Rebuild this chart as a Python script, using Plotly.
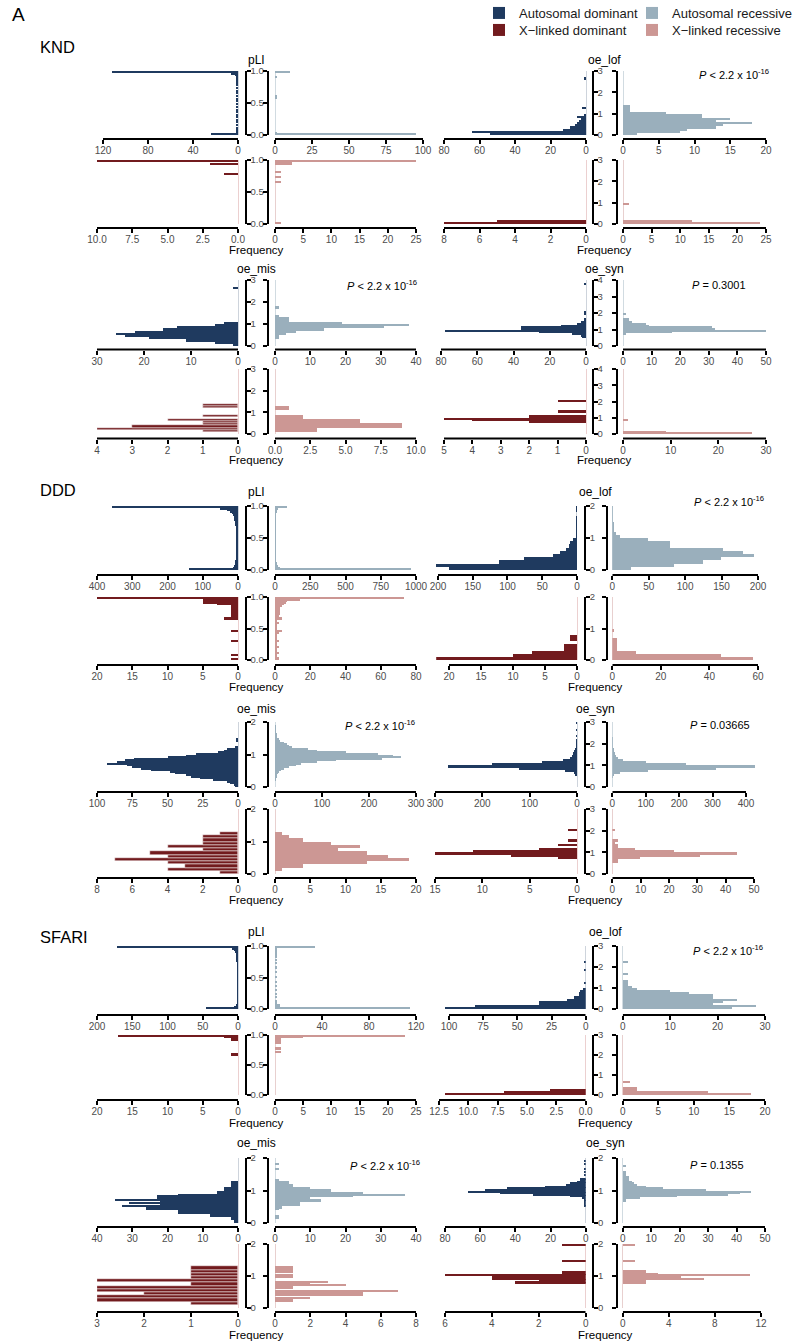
import plotly.graph_objects as go

W, H = 794, 1341

# ---------------------------------------------------------------------------
# Histogram counts. Each list holds the counts of consecutive bins starting
# at 0; pLI uses bins of 0.025, the o/e metrics 0.1 unless listed in FINE_BINS.
# ---------------------------------------------------------------------------
KND_PLI_AD = [24, 2, 1, 1, 1, 0, 1, 0, 1, 1,
              0, 1, 1, 0, 1, 1, 0, 1, 0, 1,
              0, 1, 1, 0, 1, 0, 1, 1, 0, 1,
              0, 1, 1, 1, 1, 2, 2, 3, 6, 112]
KND_PLI_AR = [95, 1, 0, 0, 0, 0, 0, 0, 0, 0,
              0, 0, 0, 0, 0, 0, 0, 0, 0, 0,
              0, 0, 0, 1, 1, 0, 0, 0, 0, 0,
              0, 0, 0, 0, 0, 0, 1, 0, 0, 10]
KND_PLI_XLD = [0, 0, 0, 0, 0, 0, 0, 0, 0, 0,
               0, 0, 0, 0, 0, 0, 0, 0, 0, 0,
               0, 0, 0, 0, 0, 0, 0, 0, 0, 0,
               0, 1, 0, 0, 0, 0, 0, 2, 0, 10]
KND_PLI_XLR = [1, 0, 0, 0, 0, 0, 0, 0, 0, 0,
               0, 0, 0, 0, 0, 0, 0, 0, 0, 0,
               0, 0, 0, 0, 0, 0, 1, 0, 0, 1,
               0, 0, 1, 0, 0, 0, 0, 3, 3, 25]
KND_LOF_AD = [54, 64, 13, 9, 6, 5, 4, 3, 5, 1, 0, 0, 2, 0, 0, 0, 0, 0, 0, 0,
              0, 0, 0, 0, 0, 0, 1]
KND_LOF_AR = [2, 8, 9, 13, 14, 18, 13, 15, 11, 11, 6, 1, 1, 1]
KND_LOF_XLD = [8, 5]
KND_LOF_XLR = [24, 12, 0, 0, 0, 0, 0, 0, 0, 1]
KND_MIS_AD = [1, 5, 11, 19, 24, 26, 22, 16, 13, 5, 3, 0, 0, 0, 0, 0, 0, 0, 0, 0,
              0, 0, 0, 0, 0, 0, 1]
KND_MIS_AR = [0, 0, 0, 1, 1, 3, 6, 14, 31, 38, 19, 4, 4, 1, 0, 0, 0, 1]
KND_MIS_XLD = [0, 1, 4, 3, 1, 1, 2, 0, 1, 0, 0, 0, 1, 1]
KND_MIS_XLR = [0, 3, 3, 9, 9, 6, 6, 2, 2, 0, 0, 1, 1]
KND_SYN_AD = [0, 0, 0, 0, 0, 2, 3, 8, 26, 78, 36, 36, 14, 5, 3, 1, 1, 0, 0, 1,
              1, 0, 0, 0, 0, 0, 0, 0, 0, 0, 0, 0, 0, 0, 0, 0, 0, 1]
KND_SYN_AR = [0, 0, 0, 0, 0, 0, 0, 1, 17, 50, 32, 31, 9, 8, 3, 2, 2, 0, 0, 1]
KND_SYN_XLD = [0, 0, 0, 0, 0, 0, 0, 2, 4, 5, 2, 2, 0, 1, 1, 0, 0, 0, 0, 0, 1]
KND_SYN_XLR = [27, 9, 0, 0, 0, 0, 0, 0, 1]

DDD_PLI_AD = [140, 14, 10, 9, 8, 8, 7, 7, 7, 6,
              6, 6, 6, 6, 6, 6, 6, 6, 6, 6,
              6, 6, 6, 6, 6, 7, 7, 7, 8, 8,
              9, 10, 11, 12, 13, 16, 22, 32, 50, 358]
DDD_PLI_AR = [965, 35, 18, 12, 9, 7, 6, 5, 5, 4,
              4, 4, 4, 3, 3, 3, 3, 3, 3, 3,
              3, 3, 3, 3, 3, 3, 3, 3, 3, 4,
              4, 4, 4, 5, 6, 7, 9, 12, 23, 82]
DDD_PLI_XLD = [1, 0, 0, 1, 0, 0, 0, 0, 0, 0,
               0, 0, 1, 0, 0, 0, 0, 0, 1, 0,
               0, 0, 0, 0, 0, 0, 2, 1, 1, 1,
               1, 1, 1, 1, 1, 3, 5, 5, 5, 20]
DDD_PLI_XLR = [2, 2, 1, 1, 2, 1, 1, 1, 2, 1,
               1, 1, 2, 1, 1, 1, 1, 2, 4, 1,
               1, 1, 1, 2, 1, 1, 4, 2, 2, 3,
               3, 3, 3, 3, 4, 5, 6, 7, 14, 73]
DDD_LOF_AD = [184, 203, 112, 77, 34, 24, 16, 12, 10, 6, 2, 1, 1, 1, 1, 1, 1, 0, 1, 1]
DDD_LOF_AR = [26, 85, 125, 150, 195, 180, 152, 79, 79, 49, 11, 5, 3, 2, 2, 1, 1, 1, 1, 1]
DDD_LOF_XLD = [22, 10, 7, 2, 2, 0, 1, 1]
DDD_LOF_XLR = [58, 45, 10, 2, 2, 2, 2, 0, 0, 1]
DDD_MIS_AD = [2, 3, 6, 8, 18, 27, 33, 37, 45, 48, 62, 69, 75, 79, 93, 86, 80, 74, 50, 37,
              30, 14, 10, 8, 2, 0, 0, 0, 1, 1]
DDD_MIS_AR = [0, 0, 0, 0, 1, 2, 3, 4, 6, 9, 13, 20, 30, 45, 56, 90, 130, 228, 269, 250,
              220, 150, 90, 70, 36, 30, 26, 20, 11, 8, 5, 4, 3, 2, 2, 1, 1, 1]
DDD_MIS_XLD = [1, 4, 3, 4, 7, 4, 5, 2, 4, 2, 2, 2, 1]
DDD_MIS_XLR = [0, 1, 4, 13, 19, 16, 13, 9, 12, 8, 4, 2, 1]
DDD_SYN_AD = [0, 0, 0, 0, 0, 3, 6, 25, 122, 273, 180, 74, 30, 14, 11, 8, 6, 4, 2, 2,
              1, 1, 0, 1, 0, 0, 1, 0, 0, 1]
DDD_SYN_AR = [0, 0, 0, 0, 2, 7, 24, 107, 312, 427, 221, 101, 33, 18, 13, 8, 5, 4, 3, 3,
              2, 2, 1]
DDD_SYN_XLD = [0, 0, 0, 0, 0, 0, 0, 2, 7, 15, 11, 4, 0, 2, 0, 1, 0, 0, 0, 0, 1]
DDD_SYN_XLR = [0, 0, 0, 0, 0, 2, 2, 10, 31, 44, 22, 8, 2, 2, 1, 2, 0, 0, 0, 0, 1]

SFARI_PLI_AD = [45, 6, 2, 1, 1, 1, 1, 1, 1, 1,
                1, 1, 1, 1, 1, 1, 1, 1, 1, 1,
                1, 1, 1, 1, 1, 1, 1, 1, 1, 1,
                2, 2, 2, 2, 3, 3, 4, 6, 8, 172]
SFARI_PLI_AR = [115, 4, 4, 2, 1, 1, 0, 1, 0, 1,
                0, 0, 1, 0, 1, 0, 0, 1, 0, 0,
                1, 0, 0, 1, 0, 0, 1, 0, 0, 1,
                0, 1, 0, 1, 1, 1, 1, 2, 2, 34]
SFARI_PLI_XLD = [0, 0, 0, 0, 0, 0, 0, 0, 0, 0,
                 0, 0, 0, 0, 0, 0, 0, 0, 0, 0,
                 0, 0, 0, 0, 0, 0, 1, 1, 0, 0,
                 0, 0, 0, 0, 0, 0, 1, 1, 2, 17]
SFARI_PLI_XLR = [0, 0, 0, 0, 0, 0, 0, 0, 0, 0,
                 0, 0, 0, 0, 0, 0, 0, 0, 0, 0,
                 0, 0, 0, 0, 0, 0, 0, 0, 1, 0,
                 1, 1, 0, 0, 1, 1, 1, 1, 5, 23]
SFARI_LOF_AD = [103, 81, 34, 34, 14, 9, 5, 5, 4, 2, 0, 0, 1, 0, 0, 0, 0, 0, 1, 0, 0, 0, 1]
SFARI_LOF_AR = [23, 28, 19, 21, 24, 19, 19, 14, 10, 3, 2, 1, 1, 1, 0, 0, 1, 0, 0, 0, 0, 0, 1]
SFARI_LOF_XLD = [12, 7, 3]
SFARI_LOF_XLR = [18, 12, 2, 2, 0, 0, 1]
SFARI_MIS_AD = [1, 1, 2, 2, 8, 8, 17, 17, 26, 26, 33, 22, 31, 22, 35, 23, 23, 17, 6, 6,
                4, 4, 2, 2, 2, 2]
SFARI_MIS_AR = [0, 0, 0, 1, 1, 0, 0, 0, 1, 2, 2, 7, 7, 13, 13, 10, 22, 37, 25, 16,
                16, 10, 5, 5, 4, 4, 1, 0, 0, 0, 0, 0, 0, 1, 0, 0, 1]
SFARI_MIS_XLD = [0, 1, 3, 3, 2, 3, 3, 1, 3, 1, 1, 1, 1]
SFARI_MIS_XLR = [0, 0, 0, 0, 1, 1, 2, 0, 5, 5, 7, 0, 1, 1, 4, 2, 3, 0, 0, 1,
                 1, 0, 1, 1, 1, 1]
SFARI_SYN_AD = [0, 0, 0, 0, 0, 0, 0, 0, 0, 0, 1, 1, 1, 1, 1, 2, 9, 30, 49, 67,
                57, 45, 23, 11, 9, 5, 3, 3, 0, 1, 0, 1, 0, 1, 0, 0, 1, 0, 1]
SFARI_SYN_AR = [0, 0, 0, 0, 0, 0, 0, 0, 0, 0, 0, 0, 0, 1, 1, 6, 19, 37, 41, 45,
                29, 14, 8, 5, 4, 3, 2, 2, 2, 1, 1, 1, 0, 0, 0, 1]
SFARI_SYN_XLD = [0, 0, 0, 0, 0, 0, 0, 0, 0, 0, 0, 0, 0, 0, 0, 3, 3, 2, 4, 4,
                 6, 1, 1, 0, 0, 0, 0, 0, 0, 1, 0, 0, 0, 0, 0, 0, 0, 0, 0, 1]
SFARI_SYN_XLR = [0, 0, 0, 0, 0, 0, 0, 0, 0, 0, 0, 0, 0, 0, 0, 2, 2, 2, 7, 5,
                 11, 3, 2, 2, 0, 0, 0, 0, 0, 1, 0, 0, 0, 0, 0, 0, 0, 0, 0, 1]

HIST = {
    "KND": {
        "pLI": {"AD": KND_PLI_AD, "AR": KND_PLI_AR, "XLD": KND_PLI_XLD, "XLR": KND_PLI_XLR},
        "oe_lof": {"AD": KND_LOF_AD, "AR": KND_LOF_AR, "XLD": KND_LOF_XLD, "XLR": KND_LOF_XLR},
        "oe_mis": {"AD": KND_MIS_AD, "AR": KND_MIS_AR, "XLD": KND_MIS_XLD, "XLR": KND_MIS_XLR},
        "oe_syn": {"AD": KND_SYN_AD, "AR": KND_SYN_AR, "XLD": KND_SYN_XLD, "XLR": KND_SYN_XLR},
    },
    "DDD": {
        "pLI": {"AD": DDD_PLI_AD, "AR": DDD_PLI_AR, "XLD": DDD_PLI_XLD, "XLR": DDD_PLI_XLR},
        "oe_lof": {"AD": DDD_LOF_AD, "AR": DDD_LOF_AR, "XLD": DDD_LOF_XLD, "XLR": DDD_LOF_XLR},
        "oe_mis": {"AD": DDD_MIS_AD, "AR": DDD_MIS_AR, "XLD": DDD_MIS_XLD, "XLR": DDD_MIS_XLR},
        "oe_syn": {"AD": DDD_SYN_AD, "AR": DDD_SYN_AR, "XLD": DDD_SYN_XLD, "XLR": DDD_SYN_XLR},
    },
    "SFARI": {
        "pLI": {"AD": SFARI_PLI_AD, "AR": SFARI_PLI_AR, "XLD": SFARI_PLI_XLD, "XLR": SFARI_PLI_XLR},
        "oe_lof": {"AD": SFARI_LOF_AD, "AR": SFARI_LOF_AR, "XLD": SFARI_LOF_XLD, "XLR": SFARI_LOF_XLR},
        "oe_mis": {"AD": SFARI_MIS_AD, "AR": SFARI_MIS_AR, "XLD": SFARI_MIS_XLD, "XLR": SFARI_MIS_XLR},
        "oe_syn": {"AD": SFARI_SYN_AD, "AR": SFARI_SYN_AR, "XLD": SFARI_SYN_XLD, "XLR": SFARI_SYN_XLR},
    },
}

BIN_WIDTH = {"pLI": 0.025, "oe_lof": 0.1, "oe_mis": 0.1, "oe_syn": 0.1}
FINE_BINS = {("DDD", "oe_mis", "AD"), ("DDD", "oe_mis", "AR"),
             ("SFARI", "oe_mis", "AD"), ("SFARI", "oe_mis", "AR"),
             ("SFARI", "oe_mis", "XLR"),
             ("SFARI", "oe_syn", "AD"), ("SFARI", "oe_syn", "AR"),
             ("SFARI", "oe_syn", "XLD"), ("SFARI", "oe_syn", "XLR")}

# x-axis tick values (frequency) for each panel
X_TICKS = {
    ("KND", "pLI", "AD"): [0, 40, 80, 120], ("KND", "pLI", "AR"): [0, 25, 50, 75, 100],
    ("KND", "pLI", "XLD"): [0, 2.5, 5, 7.5, 10], ("KND", "pLI", "XLR"): [0, 5, 10, 15, 20, 25],
    ("KND", "oe_lof", "AD"): [0, 20, 40, 60, 80], ("KND", "oe_lof", "AR"): [0, 5, 10, 15, 20],
    ("KND", "oe_lof", "XLD"): [0, 2, 4, 6, 8], ("KND", "oe_lof", "XLR"): [0, 5, 10, 15, 20, 25],
    ("KND", "oe_mis", "AD"): [0, 10, 20, 30], ("KND", "oe_mis", "AR"): [0, 10, 20, 30, 40],
    ("KND", "oe_mis", "XLD"): [0, 1, 2, 3, 4], ("KND", "oe_mis", "XLR"): [0, 2.5, 5, 7.5, 10],
    ("KND", "oe_syn", "AD"): [0, 20, 40, 60, 80], ("KND", "oe_syn", "AR"): [0, 10, 20, 30, 40, 50],
    ("KND", "oe_syn", "XLD"): [0, 1, 2, 3, 4, 5], ("KND", "oe_syn", "XLR"): [0, 10, 20, 30],
    ("DDD", "pLI", "AD"): [0, 100, 200, 300, 400], ("DDD", "pLI", "AR"): [0, 250, 500, 750, 1000],
    ("DDD", "pLI", "XLD"): [0, 5, 10, 15, 20], ("DDD", "pLI", "XLR"): [0, 20, 40, 60, 80],
    ("DDD", "oe_lof", "AD"): [0, 50, 100, 150, 200], ("DDD", "oe_lof", "AR"): [0, 50, 100, 150, 200],
    ("DDD", "oe_lof", "XLD"): [0, 5, 10, 15, 20], ("DDD", "oe_lof", "XLR"): [0, 20, 40, 60],
    ("DDD", "oe_mis", "AD"): [0, 25, 50, 75, 100], ("DDD", "oe_mis", "AR"): [0, 100, 200, 300],
    ("DDD", "oe_mis", "XLD"): [0, 2, 4, 6, 8], ("DDD", "oe_mis", "XLR"): [0, 5, 10, 15, 20],
    ("DDD", "oe_syn", "AD"): [0, 100, 200, 300], ("DDD", "oe_syn", "AR"): [0, 100, 200, 300, 400],
    ("DDD", "oe_syn", "XLD"): [0, 5, 10, 15], ("DDD", "oe_syn", "XLR"): [0, 10, 20, 30, 40, 50],
    ("SFARI", "pLI", "AD"): [0, 50, 100, 150, 200], ("SFARI", "pLI", "AR"): [0, 40, 80, 120],
    ("SFARI", "pLI", "XLD"): [0, 5, 10, 15, 20], ("SFARI", "pLI", "XLR"): [0, 5, 10, 15, 20, 25],
    ("SFARI", "oe_lof", "AD"): [0, 25, 50, 75, 100], ("SFARI", "oe_lof", "AR"): [0, 10, 20, 30],
    ("SFARI", "oe_lof", "XLD"): [0, 2.5, 5, 7.5, 10, 12.5], ("SFARI", "oe_lof", "XLR"): [0, 5, 10, 15, 20],
    ("SFARI", "oe_mis", "AD"): [0, 10, 20, 30, 40], ("SFARI", "oe_mis", "AR"): [0, 10, 20, 30, 40],
    ("SFARI", "oe_mis", "XLD"): [0, 1, 2, 3], ("SFARI", "oe_mis", "XLR"): [0, 2, 4, 6, 8],
    ("SFARI", "oe_syn", "AD"): [0, 20, 40, 60, 80], ("SFARI", "oe_syn", "AR"): [0, 10, 20, 30, 40, 50],
    ("SFARI", "oe_syn", "XLD"): [0, 2, 4, 6], ("SFARI", "oe_syn", "XLR"): [0, 4, 8, 12],
}

# constraint-score axis: (max, ticks)
Y_AXIS = {
    ("KND", "pLI"): (1, [0, 0.5, 1]), ("KND", "oe_lof"): (3, [0, 1, 2, 3]),
    ("KND", "oe_mis"): (3, [0, 1, 2, 3]), ("KND", "oe_syn"): (4, [0, 1, 2, 3, 4]),
    ("DDD", "pLI"): (1, [0, 0.5, 1]), ("DDD", "oe_lof"): (2, [0, 1, 2]),
    ("DDD", "oe_mis"): (2, [0, 1, 2]), ("DDD", "oe_syn"): (3, [0, 1, 2, 3]),
    ("SFARI", "pLI"): (1, [0, 0.5, 1]), ("SFARI", "oe_lof"): (3, [0, 1, 2, 3]),
    ("SFARI", "oe_mis"): (2, [0, 1, 2]), ("SFARI", "oe_syn"): (2, [0, 1, 2]),
}

P_VALUES = {
    ("KND", "oe_lof"): "<i>P</i> < 2.2 x 10<sup>-16</sup>",
    ("KND", "oe_mis"): "<i>P</i> < 2.2 x 10<sup>-16</sup>",
    ("KND", "oe_syn"): "<i>P</i> = 0.3001",
    ("DDD", "oe_lof"): "<i>P</i> < 2.2 x 10<sup>-16</sup>",
    ("DDD", "oe_mis"): "<i>P</i> < 2.2 x 10<sup>-16</sup>",
    ("DDD", "oe_syn"): "<i>P</i> = 0.03665",
    ("SFARI", "oe_lof"): "<i>P</i> < 2.2 x 10<sup>-16</sup>",
    ("SFARI", "oe_mis"): "<i>P</i> < 2.2 x 10<sup>-16</sup>",
    ("SFARI", "oe_syn"): "<i>P</i> = 0.1355",
}

DATASETS = ["KND", "DDD", "SFARI"]
METRICS = ["pLI", "oe_lof", "oe_mis", "oe_syn"]
GROUPS = ["AD", "AR", "XLD", "XLR"]
GROUP_NAMES = {"AD": "Autosomal dominant", "AR": "Autosomal recessive",
               "XLD": "X\u2212linked dominant", "XLR": "X\u2212linked recessive"}

# ---------------------------------------------------------------------------
# Styling and page geometry (pixels)
# ---------------------------------------------------------------------------
FONT = "Liberation Sans, Arial, Helvetica, sans-serif"
COLORS = {"AD": "#1f3a5f", "AR": "#9aafbc", "XLD": "#721b1e", "XLR": "#cc9794"}
ZERO_COLORS = {"AD": "rgba(31,58,95,0.22)", "AR": "rgba(154,175,188,0.45)",
               "XLD": "rgba(200,120,120,0.35)", "XLR": "rgba(204,151,148,0.45)"}
TICK_GRAY = "#4d4d4d"
# panels whose separate bars show a thin white outline
OUTLINED = {("KND", "oe_mis", "XLD"), ("DDD", "oe_mis", "XLD"), ("SFARI", "oe_mis", "XLD")}

# legend slots: (legend id, left pixel, top pixel)
LEGEND_SLOTS = {"AD": ("legend", 479, -2), "AR": ("legend2", 632, -2),
                "XLD": ("legend3", 479, 15), "XLR": ("legend4", 632, 15)}

# rows: (pixel of y max, pixel of y = 0, pixel of x-axis line)
ROW_Y = {
    "KND": [(71, 135, 139), (160, 224, 228), (280, 346, 349.5), (369, 434, 438.5)],
    "DDD": [(506, 570, 575), (597, 660, 665), (722, 787, 792), (809, 874, 878)],
    "SFARI": [(946, 1009, 1015), (1035, 1095, 1100), (1158, 1223, 1227), (1244, 1308, 1312)],
}
# blocks: (zero of left panel, left bracket, right bracket, zero of right panel)
BLOCK_X = {
    "KND": [(238, 245.7, 267.7, 275), (586, 592.7, 616.7, 623)],
    "DDD": [(238, 245.7, 267.7, 275), (577, 585, 606.7, 612.3)],
    "SFARI": [(238, 245.7, 267.7, 275), (585.7, 593.3, 616.7, 622.7)],
}
# pixel of the last frequency tick, by default per block and side
END_DEFAULT = {
    "KND": [(97, 416), (444, 766)],
    "DDD": [(97, 416), (438, 758)],
    "SFARI": [(97, 416), (447, 765)],
}
END_OVERRIDE = {
    ("KND", "pLI", "AD"): 103, ("KND", "pLI", "AR"): 423,
    ("KND", "oe_syn", "AD"): 441,
    ("DDD", "oe_lof", "XLD"): 449, ("DDD", "oe_syn", "AD"): 435,
    ("DDD", "oe_syn", "XLD"): 435, ("DDD", "oe_syn", "AR"): 746,
    ("DDD", "oe_syn", "XLR"): 754,
    ("SFARI", "oe_lof", "AD"): 449, ("SFARI", "oe_lof", "XLD"): 439,
    ("SFARI", "oe_syn", "AD"): 445, ("SFARI", "oe_syn", "XLD"): 445,
    ("SFARI", "oe_syn", "XLR"): 761,
}
METRIC_POS = {"pLI": (0, 0), "oe_lof": (1, 0), "oe_mis": (0, 2), "oe_syn": (1, 2)}
GROUP_POS = {"AD": ("L", 0), "AR": ("R", 0), "XLD": ("L", 1), "XLR": ("R", 1)}

TITLE_Y = {"KND": (60, 269), "DDD": (492, 709), "SFARI": (932, 1143)}
FREQ_Y = {"KND": (250.5, 459.5), "DDD": (686.5, 899.5), "SFARI": (1123, 1335)}
DATASET_LABEL_Y = {"KND": 47, "DDD": 490, "SFARI": 937}
P_POS = {
    ("KND", "oe_lof"): (697, 74), ("KND", "oe_mis"): (345, 285), ("KND", "oe_syn"): (690, 285),
    ("DDD", "oe_lof"): (692, 501), ("DDD", "oe_mis"): (343, 725), ("DDD", "oe_syn"): (688, 725),
    ("SFARI", "oe_lof"): (691, 950), ("SFARI", "oe_mis"): (348, 1165), ("SFARI", "oe_syn"): (688, 1165),
}


def fx(p):
    return p / W


def fy(p):
    return 1 - p / H


def fmt(vals):
    if any(v != int(v) for v in vals):
        return [f"{v:.1f}" for v in vals]
    return [str(int(v)) for v in vals]


fig = go.Figure()
layout_axes = {}
shapes = []
annotations = []
seen = set()
k = 0

for ds in DATASETS:
    for metric in METRICS:
        block, row0 = METRIC_POS[metric]
        zl, brl, brr, zr = BLOCK_X[ds][block]
        ymax, yticks = Y_AXIS[(ds, metric)]
        for grp in GROUPS:
            side, radd = GROUP_POS[grp]
            top, bottom, axis_y = ROW_Y[ds][row0 + radd]
            k += 1
            xn = "xaxis" if k == 1 else f"xaxis{k}"
            yn = "yaxis" if k == 1 else f"yaxis{k}"
            xr = "x" if k == 1 else f"x{k}"
            yr = "y" if k == 1 else f"y{k}"

            counts = HIST[ds][metric][grp]
            w = 0.05 if (ds, metric, grp) in FINE_BINS else BIN_WIDTH[metric]
            ys = [(i + 0.5) * w for i, c in enumerate(counts) if c > 0]
            xs = [c for c in counts if c > 0]
            outline = (ds, metric, grp) in OUTLINED

            fig.add_trace(go.Bar(
                x=xs, y=ys, width=w, orientation="h", xaxis=xr, yaxis=yr,
                marker=dict(color=COLORS[grp],
                            line=dict(color="white", width=0.5 if outline else 0)),
                name=GROUP_NAMES[grp], legendgroup=grp, legend=LEGEND_SLOTS[grp][0],
                showlegend=grp not in seen, hoverinfo="skip",
            ))
            seen.add(grp)

            ticks = X_TICKS[(ds, metric, grp)]
            tmax = max(ticks)
            zero_px = zl if side == "L" else zr
            end_px = END_OVERRIDE.get((ds, metric, grp),
                                      END_DEFAULT[ds][block][0 if side == "L" else 1])
            scale = abs(zero_px - end_px) / tmax
            rmax = max(tmax, max(counts))
            if side == "L":
                dom = [fx(zero_px - rmax * scale), fx(zero_px)]
                xrange = [rmax, 0]
            else:
                dom = [fx(zero_px), fx(zero_px + rmax * scale)]
                xrange = [0, rmax]

            layout_axes[xn] = dict(
                domain=dom, range=xrange, anchor="free", position=fy(axis_y),
                side="bottom", showline=False, showgrid=False,
                zeroline=True, zerolinecolor=ZERO_COLORS[grp], zerolinewidth=1,
                ticks="outside", ticklen=4, tickwidth=1.5, tickcolor="black",
                tickvals=ticks, ticktext=fmt(ticks), ticklabelstandoff=-2,
                tickfont=dict(size=10, color=TICK_GRAY, family=FONT), fixedrange=True,
            )
            # axis line spanning only the labelled ticks
            shapes.append(dict(type="line", xref=xr, yref="paper", x0=0, x1=tmax,
                               y0=fy(axis_y), y1=fy(axis_y),
                               line=dict(color="black", width=1.8)))

            layout_axes[yn] = dict(
                domain=[fy(bottom), fy(top)], range=[0, ymax], anchor="free",
                position=fx(brl if side == "L" else brr),
                side="right" if side == "L" else "left",
                showline=True, linecolor="black", linewidth=1.8,
                showgrid=False, zeroline=False,
                ticks="outside", ticklen=4, tickwidth=1.5, tickcolor="black",
                tickvals=yticks, ticktext=fmt(yticks), ticklabelstandoff=-2,
                showticklabels=(side == "L"),
                tickfont=dict(size=9.5, color=TICK_GRAY, family=FONT), fixedrange=True,
            )

        # metric title and frequency label, centred on the score axis
        cx = (brl + brr) / 2
        ty = TITLE_Y[ds][0 if row0 == 0 else 1]
        annotations.append(dict(text=metric, x=fx(cx), y=fy(ty), xref="paper", yref="paper",
                                showarrow=False, xanchor="center", yanchor="middle",
                                font=dict(size=12, color="black", family=FONT)))
        annotations.append(dict(text="Frequency", x=fx(cx), y=fy(FREQ_Y[ds][0 if row0 == 0 else 1]),
                                xref="paper", yref="paper", showarrow=False,
                                xanchor="center", yanchor="middle",
                                font=dict(size=11.5, color="black", family=FONT)))
        if (ds, metric) in P_VALUES:
            px_, py_ = P_POS[(ds, metric)]
            annotations.append(dict(text=P_VALUES[(ds, metric)], x=fx(px_), y=fy(py_),
                                    xref="paper", yref="paper", showarrow=False,
                                    xanchor="left", yanchor="middle",
                                    font=dict(size=11, color="black", family=FONT)))

    annotations.append(dict(text=ds, x=fx(38), y=fy(DATASET_LABEL_Y[ds]), xref="paper", yref="paper",
                            showarrow=False, xanchor="left", yanchor="middle",
                            font=dict(size=16.5, color="black", family=FONT)))

annotations.append(dict(text="A", x=fx(10), y=fy(15), xref="paper", yref="paper",
                        showarrow=False, xanchor="left", yanchor="middle",
                        font=dict(size=19, color="black", family=FONT)))

legend_layout = {}
for grp, (lid, lx, ly) in LEGEND_SLOTS.items():
    legend_layout[lid] = dict(
        x=fx(lx), y=fy(ly), xanchor="left", yanchor="top", orientation="h",
        font=dict(size=13, color="#1a1a1a", family=FONT),
        bgcolor="rgba(0,0,0,0)", borderwidth=0,
        itemclick=False, itemdoubleclick=False,
    )

fig.update_layout(
    width=W, height=H, margin=dict(l=0, r=0, t=0, b=0, pad=0, autoexpand=False),
    paper_bgcolor="white", plot_bgcolor="white",
    font=dict(family=FONT, color="black"),
    bargap=0, barmode="overlay",
    showlegend=True,
    shapes=shapes, annotations=annotations,
    **legend_layout,
    **layout_axes,
)

fig.write_html("out.html",
               post_script="document.body.style.margin='0';document.body.style.padding='0';")
